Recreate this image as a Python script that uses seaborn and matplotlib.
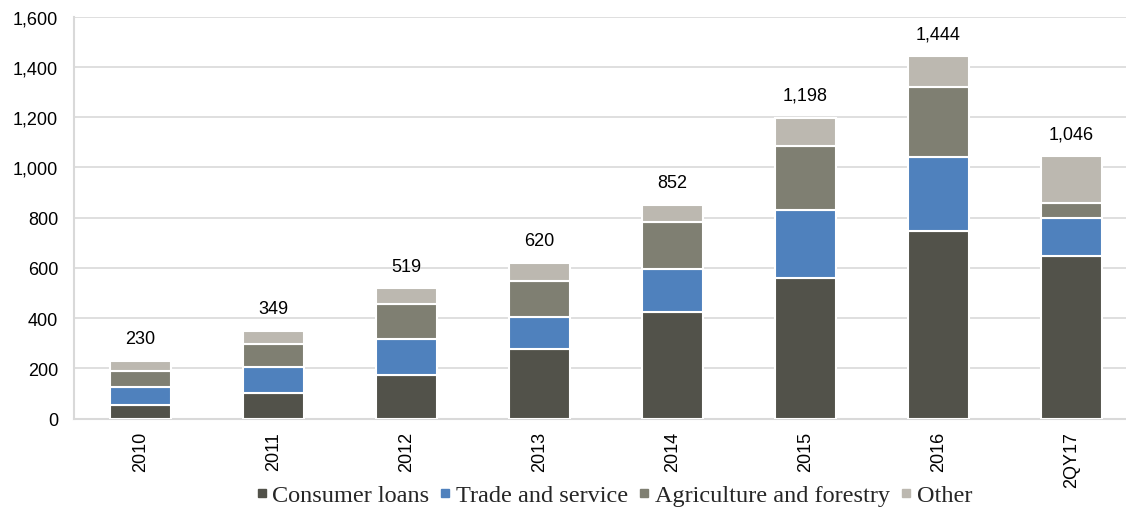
import matplotlib
matplotlib.use("Agg")
import matplotlib.pyplot as plt
from matplotlib.lines import Line2D
from matplotlib.ticker import FuncFormatter
import numpy as np
import pandas as pd
import seaborn as sns

# Loan portfolio by segment
periods = ["2010", "2011", "2012", "2013", "2014", "2015", "2016", "2QY17"]
consumer_loans = [55, 101, 175, 276, 425, 560, 748, 647]
trade_and_service = [73, 106, 141, 130, 171, 271, 294, 152]
agriculture_forestry = [62, 90, 142, 143, 188, 254, 279, 61]
other = [40, 52, 61, 71, 68, 113, 123, 186]

series_names = ["Consumer loans", "Trade and service", "Agriculture and forestry", "Other"]
series_values = [consumer_loans, trade_and_service, agriculture_forestry, other]
series_colors = ["#52524a", "#4f81bd", "#7f7f72", "#bcb8b0"]

sns.set_theme(style="white")
plt.rcParams["font.family"] = ["Liberation Sans", "DejaVu Sans"]

fig = plt.figure(figsize=(11.26, 5.10), dpi=100)
# plot area runs slightly past the right edge of the canvas
ax = fig.add_axes([74 / 1126, 0.177, 1064 / 1126, 0.7883])

bottom = np.zeros(len(periods))
for name, vals, col in zip(series_names, series_values, series_colors):
    df = pd.DataFrame({"period": periods, "value": vals})
    sns.barplot(data=df, x="period", y="value", order=periods, color=col,
                saturation=1, width=0.466, bottom=bottom.copy(),
                edgecolor="white", linewidth=1.5, ax=ax, zorder=3)
    bottom += np.array(vals, dtype=float)

# Totals above each stack
for i, tot in enumerate(bottom):
    ax.annotate(f"{int(round(tot)):,}", xy=(i, tot), xytext=(0, 16),
                textcoords="offset points", ha="center", va="center",
                fontsize=13, color="black")

ax.set_ylim(0, 1600)
ax.set_xlim(-0.5, len(periods) - 0.5)
ax.set_yticks(np.arange(0, 1601, 200))
ax.yaxis.set_major_formatter(FuncFormatter(lambda v, p: f"{int(v):,}"))
ax.set_xlabel("")
ax.set_ylabel("")

ax.grid(axis="y", color="#d9d9d9", linewidth=1.2, zorder=0)
ax.grid(axis="x", visible=False)
for s in ["top", "right"]:
    ax.spines[s].set_visible(False)
for s in ["left", "bottom"]:
    ax.spines[s].set_color("#d9d9d9")
    ax.spines[s].set_linewidth(1.5)

ax.tick_params(axis="y", length=0, pad=11.5, labelsize=13, labelcolor="black")
ax.tick_params(axis="x", length=0, pad=9, labelsize=13, labelcolor="black",
               labelrotation=90)

handles = [Line2D([0], [0], marker="s", linestyle="none", markersize=6.3,
                  markerfacecolor=c, markeredgecolor=c) for c in series_colors]
fig.legend(handles, series_names, loc="center", bbox_to_anchor=(0.5457, 0.027),
           ncol=4, frameon=False, handlelength=0.4, handletextpad=0.25,
           columnspacing=0.45, borderpad=0,
           prop={"family": "Liberation Serif", "size": 17.5})

fig.savefig("out.png", dpi=100)
